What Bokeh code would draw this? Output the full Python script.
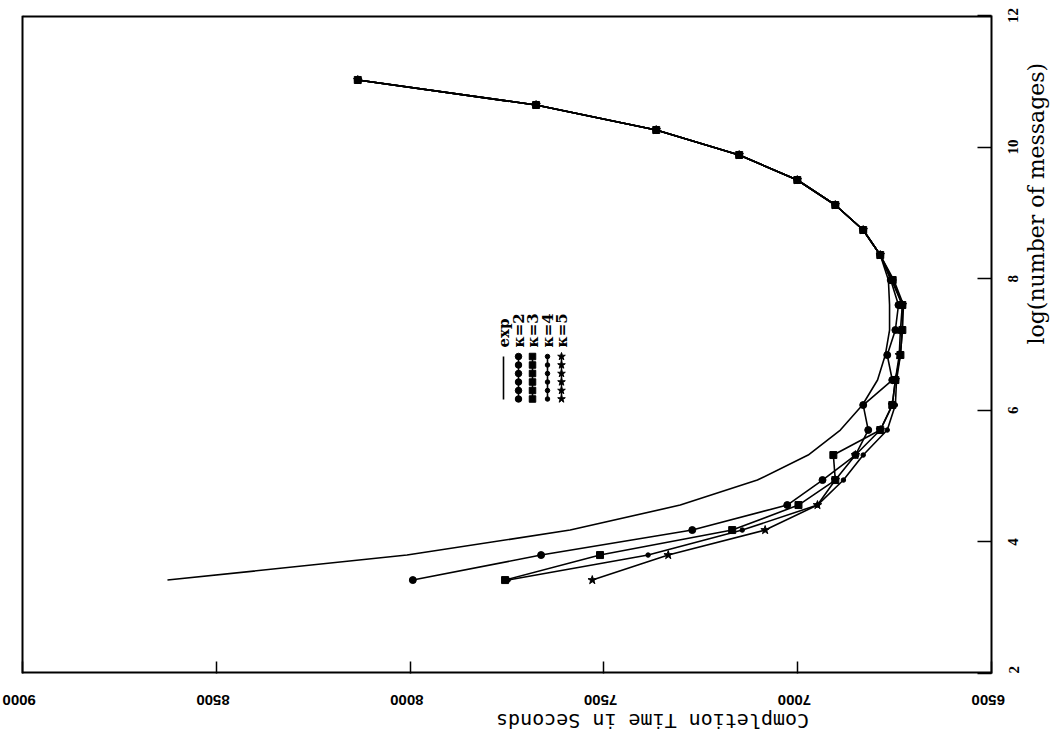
import math
from bokeh.plotting import figure
from bokeh.models import Range1d, FixedTicker, LinearAxis
from bokeh.embed import file_html
from bokeh.resources import INLINE

# ---------------- data ----------------
log_msgs = [3.42, 3.80, 4.18, 4.56, 4.94, 5.32, 5.70, 6.08, 6.46, 6.84, 7.22,
            7.60, 7.98, 8.36, 8.74, 9.12, 9.50, 9.88, 10.26, 10.64, 11.02]

time_exp = [8626, 8008, 7587, 7303, 7104, 6973, 6890, 6833, 6794, 6774, 6763,
            6763, 6766, 6787, 6831, 6903, 7001, 7151, 7365, 7675, 8135]
time_k2 = [7993, 7662, 7272, 7027, 6936, 6851, 6818, 6831, 6756, 6769, 6748,
           6740, 6760, 6787, 6831, 6903, 7001, 7151, 7365, 7675, 8135]
time_k3 = [7755, 7510, 7169, 6998, 6903, 6908, 6787, 6756, 6748, 6735, 6730,
           6730, 6755, 6787, 6831, 6903, 7001, 7151, 7365, 7675, 8135]
time_k4 = [7747, 7386, 7143, 6949, 6882, 6831, 6769, 6748, 6745, 6735, 6730,
           6727, 6752, 6787, 6831, 6903, 7001, 7151, 7365, 7675, 8135]
time_k5 = [7530, 7334, 7084, 6949, 6903, 6851, 6787, 6756, 6748, 6738, 6735,
           6730, 6758, 6787, 6831, 6903, 7001, 7151, 7365, 7675, 8135]

time_ticks = [6500, 7000, 7500, 8000, 8500, 9000]
log_ticks = [2, 4, 6, 8, 10, 12]
time_min, time_max = 6500, 9000
log_min, log_max = 2, 12

series_names = ["exp", "\u03ba=2", "\u03ba=3", "\u03ba=4", "\u03ba=5"]
x_title = "Completion Time in Seconds"
y_title = "log(number of messages)"

# ---------------- layout constants (pixels) ----------------
BOX_L, FT, BOX_W, FH = 22, 15, 969, 658      # visible box on the page
K = (time_max - time_min) / BOX_W            # x data units per pixel
KY = (log_max - log_min) / FH                # y data units per pixel
X_START = time_max + BOX_L * K               # frame starts at page x = 0
LABEL_SHIFT = 20                             # rotated label offset to undo

p = figure(frame_width=BOX_L + BOX_W, frame_height=FH,
           x_range=Range1d(X_START, time_min), y_range=Range1d(log_min, log_max),
           output_backend="svg", toolbar_location=None,
           x_axis_location="below", y_axis_location="right",
           min_border_left=0, min_border_top=FT,
           min_border_right=55, min_border_bottom=50)
p.background_fill_color = "white"
p.border_fill_color = "white"
p.grid.visible = False
p.outline_line_color = None

# box edges (left, top, bottom); the right edge is the right axis line
p.line([time_max, time_max], [log_min, log_max], line_color="black", line_width=2)
p.line([time_max, time_min], [log_max, log_max], line_color="black", line_width=4)
p.line([time_max, time_min], [log_min, log_min], line_color="black", line_width=4)

# bottom axis: inward ticks only
ax = p.xaxis[0]
ax.ticker = FixedTicker(ticks=time_ticks)
ax.major_tick_in = 12
ax.major_tick_out = 0
ax.minor_tick_line_color = None
ax.axis_line_color = None
ax.major_tick_line_width = 1.5
ax.major_label_overrides = {t: "" for t in time_ticks}
ax.major_label_standoff = 0

# bottom axis labels (upside down, as in the rotated original)
p.extra_x_ranges = {"lab": Range1d(X_START - LABEL_SHIFT * K, time_min - LABEL_SHIFT * K)}
axl = LinearAxis(x_range_name="lab", ticker=FixedTicker(ticks=time_ticks))
axl.axis_line_color = None
axl.major_tick_line_color = None
axl.minor_tick_line_color = None
axl.major_label_orientation = math.pi
axl.major_label_standoff = 20
axl.major_label_text_font = "Liberation Sans"
axl.major_label_text_font_style = "bold"
axl.major_label_text_font_size = "15px"
axl.major_label_text_color = "black"
axl.axis_label = x_title
axl.axis_label_standoff = 8
axl.axis_label_text_font = "DejaVu Sans Mono"
axl.axis_label_text_font_style = "normal"
axl.axis_label_text_font_size = "20px"
axl.axis_label_text_color = "black"
p.add_layout(axl, "below")

# right axis: line and inward ticks
ay = p.yaxis[0]
ay.ticker = FixedTicker(ticks=log_ticks)
ay.major_tick_in = 14
ay.major_tick_out = 0
ay.minor_tick_line_color = None
ay.axis_line_width = 2
ay.major_tick_line_width = 1.5
ay.major_label_overrides = {t: "" for t in log_ticks}
ay.major_label_standoff = 0

# right axis labels, rotated to read upwards and centred on their ticks
lab_pos = []
lab_txt = {}
for t in log_ticks:
    half = len(str(t)) * 3.75
    pos = round(max(log_min, t - half * KY), 4)
    lab_pos.append(pos)
    lab_txt[pos] = str(t)
ayl = LinearAxis(ticker=FixedTicker(ticks=lab_pos), major_label_overrides=lab_txt)
ayl.axis_line_color = None
ayl.major_tick_line_color = None
ayl.minor_tick_line_color = None
ayl.major_label_orientation = math.pi / 2
ayl.major_label_standoff = 16
ayl.major_label_text_font = "Liberation Serif"
ayl.major_label_text_font_style = "bold"
ayl.major_label_text_font_size = "15px"
ayl.major_label_text_color = "black"
ayl.axis_label = y_title
ayl.axis_label_standoff = 10
ayl.axis_label_text_font = "DejaVu Serif"
ayl.axis_label_text_font_style = "normal"
ayl.axis_label_text_font_size = "22px"
ayl.axis_label_text_color = "black"
p.add_layout(ayl, "right")

if "axis_label_orientation" in axl.properties():
    axl.axis_label_orientation = math.pi
    ayl.axis_label_orientation = math.pi / 2


def dx(px):
    return X_START - px * K


def dy(py):
    return log_min + (FT + FH - py) * KY


# ---------------- curves ----------------
LW = 1.6
p.line(time_exp, log_msgs, line_color="black", line_width=LW)
p.line(time_k2, log_msgs, line_color="black", line_width=LW)
p.line(time_k3, log_msgs, line_color="black", line_width=LW)
p.line(time_k4, log_msgs, line_color="black", line_width=LW)
p.line(time_k5, log_msgs, line_color="black", line_width=LW)

p.scatter(time_k2, log_msgs, marker="circle", size=7, color="black")
p.scatter(time_k3, log_msgs, marker="square", size=7, color="black")
p.scatter(time_k4, log_msgs, marker="circle", size=4.5, color="black")
p.scatter(time_k5, log_msgs, marker="star", size=9, color="black")

# ---------------- legend (drawn rotated, like the original) ----------------
leg_x = [503, 518, 532, 547, 561]
leg_top, leg_bot = 356, 399
marker_y = [356, 364.5, 373, 381.5, 390, 398.5]
markers = [None, ("circle", 6.5), ("square", 6.5), ("circle", 4.5), ("star", 8)]
for i, name in enumerate(series_names):
    xx = dx(leg_x[i])
    p.line([xx, xx], [dy(leg_bot), dy(leg_top)], line_color="black", line_width=LW)
    if markers[i] is not None:
        m, s = markers[i]
        p.scatter([xx] * len(marker_y), [dy(v) for v in marker_y],
                  marker=m, size=s, color="black")
    p.text([xx], [dy(347)], text=[name], angle=math.pi / 2,
           text_align="left", text_baseline="middle",
           text_font={"value": "DejaVu Serif"}, text_font_style="bold",
           text_font_size="15px", text_color="black")

open("out.html", "w").write(file_html(p, INLINE))
